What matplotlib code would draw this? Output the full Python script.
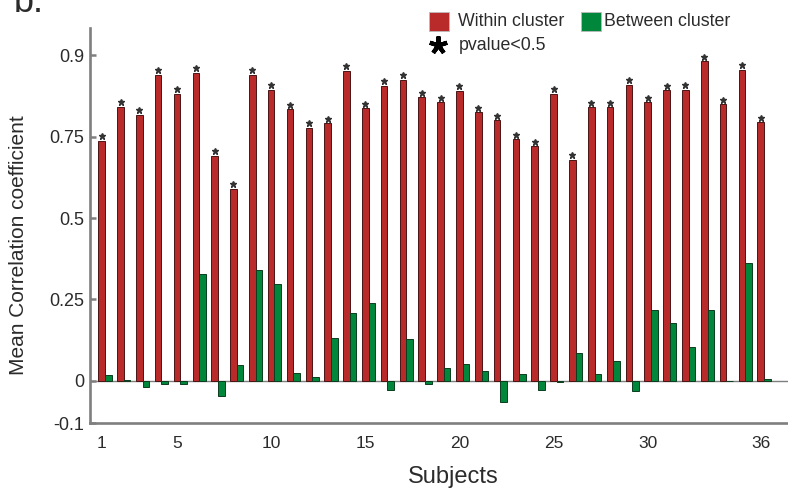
import numpy as np
import matplotlib.pyplot as plt
from matplotlib.patches import Rectangle
from matplotlib.lines import Line2D

plt.rcParams['font.family'] = ['Liberation Sans', 'DejaVu Sans']

# data
subjects = np.arange(1, 37)
within = [0.737, 0.841, 0.817, 0.940, 0.881, 0.945, 0.691, 0.589, 0.939, 0.893,
          0.834, 0.777, 0.790, 0.951, 0.837, 0.905, 0.924, 0.871, 0.855, 0.890,
          0.824, 0.800, 0.741, 0.720, 0.881, 0.678, 0.840, 0.840, 0.909, 0.855,
          0.892, 0.893, 0.981, 0.849, 0.954, 0.794]
between = [0.018, 0.002, -0.018, -0.009, -0.009, 0.329, -0.046, 0.049, 0.341, 0.297,
           0.025, 0.013, 0.131, 0.208, 0.239, -0.029, 0.130, -0.010, 0.039, 0.051,
           0.030, -0.066, 0.022, -0.028, -0.004, 0.086, 0.020, 0.061, -0.030, 0.218,
           0.179, 0.105, 0.217, 0.001, 0.363, 0.006]
significant = [True] * 36

# axis ticks as printed on the original (labels are not evenly valued)
ytick_pos = [-0.129, 0, 0.25, 0.5, 0.75, 1.0]
ytick_lab = ['-0.1', '0', '0.25', '0.5', '0.75', '0.9']
xtick_pos = [1, 5, 10, 15, 20, 25, 30, 36]

red = '#b92b2b'
green = '#00873c'
grey = '#7f7f7f'
txt = '#2b2b2b'

fig = plt.figure(figsize=(7.88, 4.92), dpi=100)
ax = fig.add_axes([90 / 788, 69 / 492, 698 / 788, 395 / 492])

w = 0.35
ax.bar(subjects, within, width=w, color=red, edgecolor='#4a1515', linewidth=0.7, zorder=2)
ax.bar(subjects + w, between, width=w, color=green, edgecolor='#0b3d1f', linewidth=0.7, zorder=2)
ax.axhline(0, color=grey, lw=1.0, zorder=1)

# significance stars
sig_x = [s for s, k in zip(subjects, significant) if k]
sig_y = [v + 0.014 for v, k in zip(within, significant) if k]
ax.plot(sig_x, sig_y, ls='none', marker='*', ms=5, color='#333333', zorder=3)

ax.set_xlim(0.379, 37.45)
ax.set_ylim(-0.129, 1.083)

for s in ['top', 'right']:
    ax.spines[s].set_visible(False)
for s in ['left', 'bottom']:
    ax.spines[s].set_color(grey)
    ax.spines[s].set_linewidth(1.9)

ax.set_yticks(ytick_pos)
ax.set_yticklabels(ytick_lab)
ax.set_xticks(xtick_pos)
ax.set_xticklabels([str(t) for t in xtick_pos])
ax.tick_params(axis='y', direction='in', length=4, width=1.8, color=grey,
               labelsize=13, labelcolor=txt, pad=4)
ax.tick_params(axis='x', length=0, labelsize=12.5, labelcolor=txt, pad=9)

ax.set_ylabel('Mean Correlation coefficient', fontsize=15, color=txt)
ax.yaxis.set_label_coords(-0.089, 0.45)
ax.set_xlabel('Subjects', fontsize=17, color=txt)
ax.xaxis.set_label_coords((453 - 90) / 698, -0.108)

# legend drawn by hand
fig.patches.append(Rectangle((429 / 788, 1 - 31 / 492), 20 / 788, 19 / 492,
                             transform=fig.transFigure, facecolor=red, edgecolor='#bbbbbb', lw=0.6))
fig.text(458 / 788, 1 - 22 / 492, 'Within cluster', fontsize=12.8, color=txt, va='center')
fig.patches.append(Rectangle((581 / 788, 1 - 31 / 492), 20 / 788, 19 / 492,
                             transform=fig.transFigure, facecolor=green, edgecolor='#bbbbbb', lw=0.6))
fig.text(604 / 788, 1 - 22 / 492, 'Between cluster', fontsize=12.8, color=txt, va='center')
fig.lines.append(Line2D([438 / 788], [1 - 45 / 492], transform=fig.transFigure,
                        marker=(5, 2, 0), ms=13, mew=3, color='black'))
fig.text(459 / 788, 1 - 45 / 492, 'pvalue<0.5', fontsize=12.8, color=txt, va='center')

fig.text(14 / 788, 1 - 12 / 492, 'b.', fontsize=26, color=txt, va='baseline')

fig.savefig('out.png', dpi=100)
